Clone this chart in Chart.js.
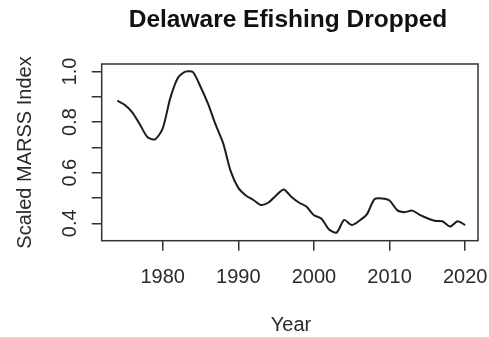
<!DOCTYPE html>
<html>
<head>
<meta charset="utf-8">
<script src="https://cdn.jsdelivr.net/npm/chart.js@4"></script>
<style>
  body { margin: 0; background: #fff; }
  #wrap { width: 489px; height: 337px; }
</style>
</head>
<body>
<div id="wrap"><canvas id="myChart" width="489" height="337"></canvas></div>
<script>
// data
const years = [1974,1975,1976,1977,1978,1979,1980,1981,1982,1983,1984,1985,1986,1987,1988,1989,
  1990,1991,1992,1993,1994,1995,1996,1997,1998,1999,2000,2001,2002,2003,2004,2005,2006,2007,
  2008,2009,2010,2011,2012,2013,2014,2015,2016,2017,2018,2019,2020];
const indexValues = [0.885,0.868,0.838,0.790,0.740,0.732,0.775,0.895,0.975,1.000,0.998,0.940,0.872,0.790,0.716,0.605,
  0.540,0.510,0.492,0.472,0.482,0.510,0.534,0.505,0.482,0.466,0.432,0.418,0.375,0.363,0.413,0.393,0.410,0.435,
  0.495,0.498,0.490,0.452,0.444,0.450,0.433,0.420,0.410,0.408,0.387,0.408,0.393];
const xTicks = [1980, 1990, 2000, 2010, 2020];
const yTicks = [0.4, 0.5, 0.6, 0.7, 0.8, 0.9, 1.0];
const yLabels = ["0.4", "0.6", "0.8", "1.0"];
const titre = "Delaware Efishing Dropped";
const xTitre = "Year";
const yTitre = "Scaled MARSS Index";

const police = "'Liberation Sans', Arial, sans-serif";
const gris = "#2a2a2a";

// textes et cadre dessinés à la main (style R)
const textesR = {
  id: "textesR",
  afterDraw(chart) {
    const ctx = chart.ctx;
    const a = chart.chartArea;
    const y = chart.scales.y;
    ctx.save();
    // cadre
    ctx.strokeStyle = "#333";
    ctx.lineWidth = 1.5;
    ctx.strokeRect(a.left, a.top, a.right - a.left, a.bottom - a.top);
    // titre
    ctx.fillStyle = "#111";
    ctx.font = "bold 24.5px " + police;
    ctx.textAlign = "center";
    ctx.textBaseline = "alphabetic";
    ctx.fillText(titre, 288, 27);
    // titre x
    ctx.fillStyle = gris;
    ctx.font = "20px " + police;
    ctx.fillText(xTitre, 291, 331);
    // labels y (tournés)
    yLabels.forEach(lab => {
      const py = y.getPixelForValue(Number(lab));
      ctx.save();
      ctx.translate(76, py);
      ctx.rotate(-Math.PI / 2);
      ctx.fillText(lab, 0, 0);
      ctx.restore();
    });
    // titre y
    ctx.save();
    ctx.translate(31, 152.5);
    ctx.rotate(-Math.PI / 2);
    ctx.fillText(yTitre, 0, 0);
    ctx.restore();
    ctx.restore();
  }
};

const points = years.map((an, i) => ({ x: an, y: indexValues[i] }));

new Chart(document.getElementById("myChart"), {
  type: "line",
  data: {
    datasets: [{
      data: points,
      borderColor: "#1c1c1c",
      borderWidth: 2,
      pointRadius: 0,
      tension: 0.25,
      fill: false
    }]
  },
  options: {
    responsive: false,
    animation: false,
    layout: { padding: { left: 0, top: 64, right: 11, bottom: 0 } },
    plugins: { legend: { display: false }, tooltip: { enabled: false }, title: { display: false } },
    scales: {
      x: {
        type: "linear",
        min: 1971.93,
        max: 2021.7,
        afterBuildTicks: s => { s.ticks = xTicks.map(v => ({ value: v })); },
        afterFit: s => { s.height = 337 - 240.7; s.paddingLeft = 0; s.paddingRight = 0; },
        grid: { drawOnChartArea: false, drawTicks: true, tickLength: 10, color: "#333", lineWidth: 1.5 },
        border: { display: false },
        ticks: {
          color: gris,
          font: { size: 20, family: police },
          padding: 15,
          maxRotation: 0,
          callback: v => String(v)
        }
      },
      y: {
        min: 0.331,
        max: 1.030,
        afterBuildTicks: s => { s.ticks = yTicks.map(v => ({ value: v })); },
        afterFit: s => { s.width = 101.7; s.paddingTop = 0; s.paddingBottom = 0; },
        grid: { drawOnChartArea: false, drawTicks: true, tickLength: 10, color: "#333", lineWidth: 1.5 },
        border: { display: false },
        ticks: { display: false }
      }
    }
  },
  plugins: [textesR]
});
</script>
</body>
</html>
